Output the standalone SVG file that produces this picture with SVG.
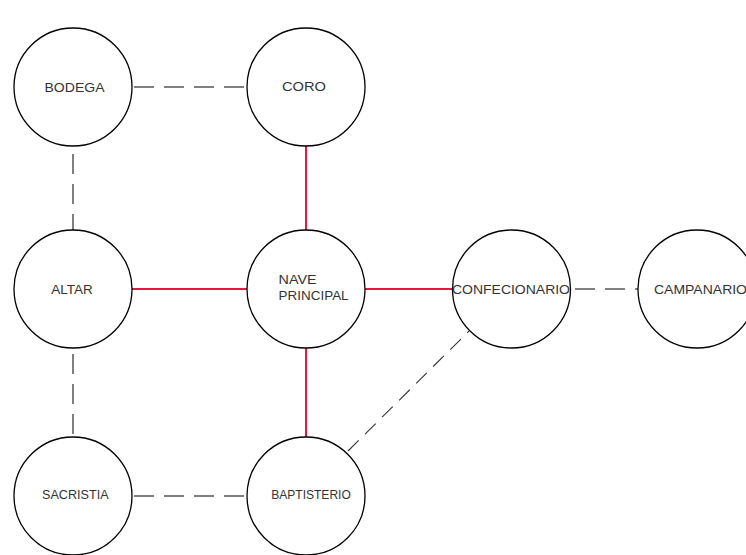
<svg xmlns="http://www.w3.org/2000/svg" width="746" height="555" viewBox="0 0 746 555">
<style>
.node circle{fill:#fff;stroke:#000;stroke-width:1.3}
.node text{font-family:"Liberation Sans",Arial,sans-serif;font-size:13.5px;fill:#333;text-anchor:middle}
.red{stroke:#e8173f;stroke-width:2;fill:none}
.dash{stroke:#555;stroke-width:1.5;fill:none;stroke-dasharray:20 10}
.diag{stroke:#333;stroke-width:1.1;fill:none;stroke-dasharray:15 9}
</style>
<rect width="746" height="555" fill="#fff"/>
<g id="connectors">
<line class="red" x1="306" y1="146" x2="306" y2="230"/>
<line class="red" x1="132" y1="289" x2="247" y2="289"/>
<line class="red" x1="365" y1="289" x2="452" y2="289"/>
<line class="red" x1="306" y1="348" x2="306" y2="437"/>
<line class="dash" x1="132" y1="87" x2="247" y2="87" stroke-dashoffset="-2"/>
<line class="dash" x1="73" y1="146" x2="73" y2="230" stroke-dashoffset="-8"/>
<line class="dash" x1="73" y1="348" x2="73" y2="437" stroke-dashoffset="-6"/>
<line class="dash" x1="132" y1="496" x2="247" y2="496" stroke-dashoffset="-2"/>
<line class="dash" x1="571" y1="289" x2="638" y2="289" stroke-dashoffset="-4"/>
<line class="diag" x1="348" y1="451" x2="469" y2="331"/>
</g>
<g id="bodega" class="node"><circle cx="73" cy="87" r="59"/><text x="74.5" y="92" textLength="60" lengthAdjust="spacingAndGlyphs">BODEGA</text></g>
<g id="coro" class="node"><circle cx="306" cy="87" r="59"/><text x="304" y="91" textLength="44" lengthAdjust="spacingAndGlyphs">CORO</text></g>
<g id="altar" class="node"><circle cx="73" cy="289" r="59"/><text x="72" y="294" textLength="41.5" lengthAdjust="spacingAndGlyphs">ALTAR</text></g>
<g id="nave" class="node"><circle cx="306" cy="289" r="59"/><text x="278.6" y="284" style="text-anchor:start" textLength="38" lengthAdjust="spacingAndGlyphs">NAVE</text><text x="278.6" y="300" style="text-anchor:start" textLength="70" lengthAdjust="spacingAndGlyphs">PRINCIPAL</text></g>
<g id="confecionario" class="node"><circle cx="511.5" cy="289" r="59"/><text x="511" y="294" textLength="118" lengthAdjust="spacingAndGlyphs">CONFECIONARIO</text></g>
<g id="campanario" class="node"><circle cx="697" cy="289" r="59"/><text x="654" y="294" style="text-anchor:start" textLength="93" lengthAdjust="spacingAndGlyphs">CAMPANARIO</text></g>
<g id="sacristia" class="node"><circle cx="73" cy="496" r="59"/><text x="75.3" y="499" textLength="66.6" lengthAdjust="spacingAndGlyphs">SACRISTIA</text></g>
<g id="baptisterio" class="node"><circle cx="306" cy="496" r="59"/><text x="311" y="499" textLength="79.6" lengthAdjust="spacingAndGlyphs">BAPTISTERIO</text></g>
</svg>
